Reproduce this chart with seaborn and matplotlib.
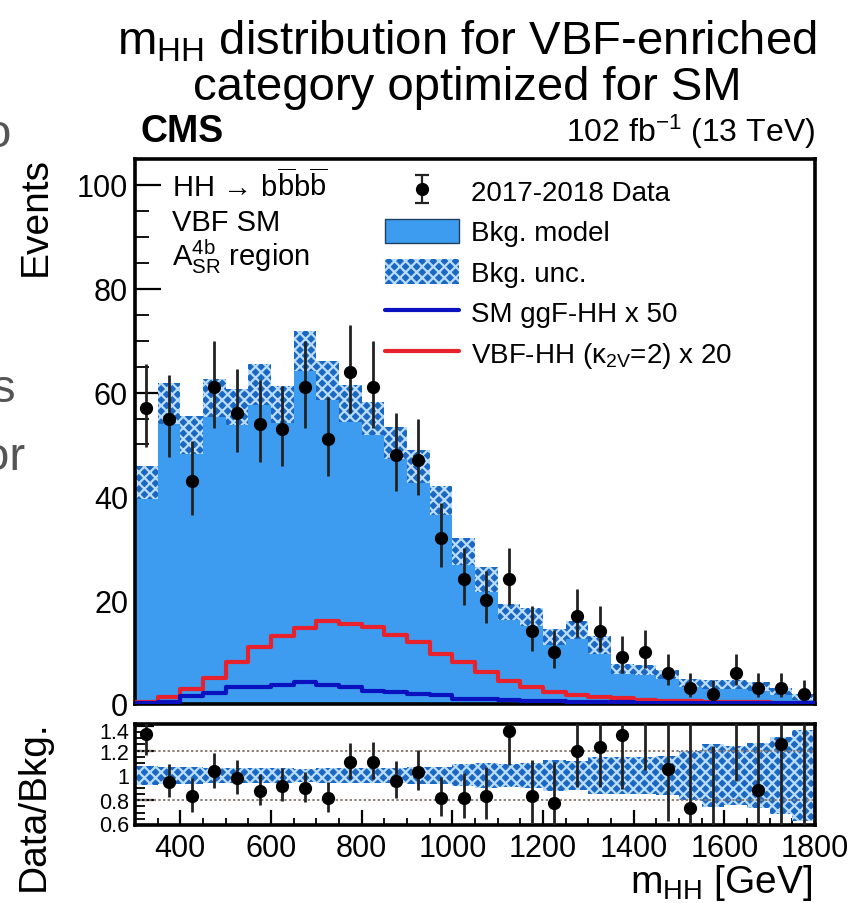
import numpy as np
import pandas as pd
import matplotlib
matplotlib.use("Agg")
import matplotlib.pyplot as plt
import matplotlib.transforms as mtransforms
import seaborn as sns
from matplotlib.ticker import MultipleLocator, FixedLocator, FuncFormatter
from matplotlib.patches import Patch
from matplotlib.lines import Line2D

# ---------------- data ----------------
bin_edges = [300, 350, 400, 450, 500, 550, 600, 650, 700, 750, 800, 850, 900, 950,
             1000, 1050, 1100, 1150, 1200, 1250, 1300, 1350, 1400, 1450, 1500,
             1550, 1600, 1650, 1700, 1750, 1800]
data_counts = [57, 55, 43, 61, 56, 54, 53, 61, 51, 64, 61, 48, 47, 32, 24,
               20, 24, 14, 10, 17, 14, 9, 10, 6, 3, 2, 6, 3, 3, 2]
data_err_lo = [7.50, 7.37, 6.50, 7.76, 7.43, 7.30, 7.23, 7.76, 7.09, 7.95, 7.76, 6.88, 6.81, 5.62, 4.86,
               4.42, 4.86, 3.70, 3.11, 4.08, 3.70, 2.94, 3.11, 2.38, 1.63, 1.29, 2.38, 1.63, 1.63, 1.29]
data_err_hi = [8.58, 8.45, 7.60, 8.85, 8.52, 8.38, 8.31, 8.85, 8.17, 9.04, 8.85, 7.97, 7.90, 6.71, 5.98,
               5.55, 5.98, 4.83, 4.26, 5.21, 4.83, 4.11, 4.26, 3.58, 2.92, 2.64, 3.58, 2.92, 2.92, 2.64]
bkg_model = [42.6, 57.9, 51.8, 59.0, 57.2, 61.6, 57.7, 68.0, 62.3, 57.9, 55.0, 50.3, 45.7, 39.2, 29.3,
             24.0, 17.7, 16.8, 12.9, 14.2, 11.4, 6.8, 6.6, 5.7, 4.05, 3.75, 3.8, 3.4, 2.4, 1.35]
bkg_unc = [3.2, 3.9, 3.6, 3.7, 3.4, 3.9, 3.6, 3.8, 3.8, 3.5, 3.2, 3.1, 3.2, 2.8, 2.6,
           2.4, 1.6, 1.7, 1.6, 1.7, 1.7, 1.0, 1.0, 0.9, 0.8, 0.95, 0.9, 0.9, 0.75, 0.5]
ggf_sm_x50 = [0.2, 0.4, 1.5, 2.2, 3.3, 3.3, 3.6, 4.2, 3.7, 3.2, 2.5, 2.3, 1.9, 1.8, 1.0,
              1.0, 0.8, 0.6, 0.5, 0.4, 0.3, 0.3, 0.2, 0.2, 0.2, 0.1, 0.1, 0.1, 0.1, 0.1]
vbf_k2v2_x20 = [0.4, 1.3, 2.9, 5.1, 8.0, 10.9, 13.1, 14.6, 15.9, 15.4, 14.8, 13.3, 11.9, 9.7, 8.0,
                6.1, 4.5, 3.2, 2.3, 1.8, 1.4, 1.1, 0.8, 0.6, 0.5, 0.4, 0.3, 0.3, 0.2, 0.2]

legend_labels = ["2017-2018 Data", "Bkg. model", "Bkg. unc.", "SM ggF-HH x 50",
                 r"VBF-HH (κ$_{\mathrm{2V}}$=2) x 20"]
ratio_ticks = [0.6, 0.8, 1.0, 1.2, 1.4]

# ---------------- style ----------------
sns.set_style("ticks")
plt.rcParams['font.family'] = ['Liberation Sans', 'DejaVu Sans']
plt.rcParams['mathtext.fontset'] = 'custom'
plt.rcParams['mathtext.rm'] = 'Liberation Sans'
plt.rcParams['mathtext.it'] = 'Liberation Sans:italic'
plt.rcParams['mathtext.bf'] = 'Liberation Sans:bold'
plt.rcParams['hatch.linewidth'] = 1.6
for key in ('text.color', 'axes.labelcolor', 'xtick.color', 'ytick.color', 'axes.edgecolor'):
    plt.rcParams[key] = 'black'

BKG_COLOR = '#3d9bf0'
BAND_FACE = '#1a68c2'
BAND_HATCH = '#b9dcff'
RED = '#e8222c'
BLUE = '#0a12c0'

edges = np.array(bin_edges, dtype=float)
centers = 0.5 * (edges[:-1] + edges[1:])
data = np.array(data_counts, dtype=float)
elo = np.array(data_err_lo)
ehi = np.array(data_err_hi)
bkg = np.array(bkg_model)
unc = np.array(bkg_unc)

hist_df = pd.DataFrame({"mhh": centers, "bkg": bkg_model, "ggf": ggf_sm_x50, "vbf": vbf_k2v2_x20})

W, H = 850, 904
fig = plt.figure(figsize=(W / 100, H / 100), dpi=100)
ax = fig.add_axes([135 / W, 1 - 705 / H, 680 / W, 545 / H])
rax = fig.add_axes([135 / W, 1 - 826 / H, 680 / W, 101 / H])

# ---------------- main panel ----------------
sns.histplot(data=hist_df, x="mhh", weights="bkg", bins=bin_edges, element='step', fill=True,
             color=BKG_COLOR, alpha=1, linewidth=0, ax=ax, zorder=1)
lo = np.append(bkg - unc, (bkg - unc)[-1])
hi = np.append(bkg + unc, (bkg + unc)[-1])
ax.fill_between(edges, lo, hi, step='post', facecolor=BAND_FACE, edgecolor=BAND_HATCH,
                hatch='xxx', linewidth=0, zorder=2)
sns.histplot(data=hist_df, x="mhh", weights="vbf", bins=bin_edges, element='step', fill=False,
             color=RED, linewidth=3, ax=ax, zorder=3)
sns.histplot(data=hist_df, x="mhh", weights="ggf", bins=bin_edges, element='step', fill=False,
             color=BLUE, linewidth=3, ax=ax, zorder=3)
ax.errorbar(centers, data, yerr=[elo, ehi], fmt='o', color='black', ecolor='#222222',
            elinewidth=2, markersize=8.5, capsize=0, zorder=5)
ax.set_xlim(300, 1800)
ax.set_ylim(0, 105)
ax.set_xlabel('')
ax.set_ylabel('')
ax.xaxis.set_major_locator(MultipleLocator(200))
ax.xaxis.set_minor_locator(MultipleLocator(50))
ax.yaxis.set_major_locator(MultipleLocator(20))
ax.yaxis.set_minor_locator(MultipleLocator(5))
ax.tick_params(axis='both', which='both', direction='in', color='black')
ax.tick_params(axis='y', which='major', length=19, width=1.6, labelsize=22, pad=5)
ax.tick_params(axis='y', which='minor', length=10, width=1.3)
ax.tick_params(axis='x', which='major', length=11, width=1.6, labelbottom=False)
ax.tick_params(axis='x', which='minor', length=5, width=1.3)
for s in ax.spines.values():
    s.set_visible(True)
    s.set_linewidth(2.6)
    s.set_color('black')

# legend
dummy = ax.errorbar([np.nan], [np.nan], yerr=[[1], [1]], fmt='o', color='black',
                    ecolor='#222222', elinewidth=1.6, markersize=8.5, capsize=5, capthick=1.6)
handles = [dummy,
           Patch(facecolor=BKG_COLOR, edgecolor='#204060', linewidth=1.0),
           Patch(facecolor=BAND_FACE, edgecolor=BAND_HATCH, hatch='xxx', linewidth=0),
           Line2D([], [], color=BLUE, linewidth=3),
           Line2D([], [], color=RED, linewidth=3)]
ax.legend(handles, legend_labels, loc='upper left', bbox_to_anchor=(0.3676, 0.965),
          frameon=False, fontsize=20, handlelength=2.65, handleheight=1.0,
          handletextpad=0.45, labelspacing=0.45, borderpad=0, borderaxespad=0)

# in-plot labels
fig.text(172 / W, 1 - 197 / H, r"HH $\!\rightarrow\!$ b$\overline{\mathrm{b}}$b$\overline{\mathrm{b}}$",
         fontsize=21, va='baseline', ha='left')
fig.text(172 / W, 1 - 231 / H, "VBF SM", fontsize=21, va='baseline', ha='left')
fig.text(172 / W, 1 - 266 / H, r"A$^{\mathrm{4b}}_{\mathrm{SR}}$ region", fontsize=21,
         va='baseline', ha='left')

# ---------------- ratio panel ----------------
ratio = data / bkg
rlo = elo / bkg
rhi = ehi / bkg
rel = unc / bkg
rax.fill_between(edges, np.append(1 - rel, (1 - rel)[-1]), np.append(1 + rel, (1 + rel)[-1]),
                 step='post', facecolor=BAND_FACE, edgecolor=BAND_HATCH, hatch='xxx',
                 linewidth=0, zorder=1)
for yv in (0.8, 1.2):
    rax.axhline(yv, color='#8a7f78', linestyle=(0, (1.2, 1.2)), linewidth=1.4, zorder=2)
rax.errorbar(centers, ratio, yerr=[rlo, rhi], fmt='o', color='black', ecolor='#222222',
             elinewidth=2, markersize=8.5, capsize=0, zorder=5)
rax.set_xlim(300, 1800)
rax.set_ylim(0.6, 1.415)
rax.xaxis.set_major_locator(MultipleLocator(200))
rax.xaxis.set_minor_locator(MultipleLocator(50))
rax.yaxis.set_major_locator(FixedLocator(ratio_ticks))
rax.yaxis.set_minor_locator(MultipleLocator(0.05))
rax.yaxis.set_major_formatter(FuncFormatter(lambda v, p: f"{v:g}"))
rax.tick_params(axis='both', which='both', direction='in', color='black')
rax.tick_params(axis='y', which='major', length=14, width=1.6, labelsize=15.5, pad=4)
rax.tick_params(axis='y', which='minor', length=7, width=1.3)
rax.tick_params(axis='x', which='major', length=11, width=1.6, labelsize=22, pad=6)
rax.tick_params(axis='x', which='minor', length=5, width=1.3)
for s in rax.spines.values():
    s.set_visible(True)
    s.set_linewidth(2.6)
    s.set_color('black')

# nudge the edge labels of the ratio axis inward, as in the reference
fig.canvas.draw()
shift_down = mtransforms.ScaledTranslation(0, -4 / 100, fig.dpi_scale_trans)
shift_up = mtransforms.ScaledTranslation(0, 2 / 100, fig.dpi_scale_trans)
for lab in rax.get_yticklabels():
    if lab.get_text() == '1.4':
        lab.set_transform(lab.get_transform() + shift_down)
    elif lab.get_text() == '0.6':
        lab.set_transform(lab.get_transform() + shift_up)

# ---------------- figure texts ----------------
fig.text(467 / W, 1 - 55 / H, r"m$_{\mathrm{HH}}$ distribution for VBF-enriched",
         fontsize=34, ha='center', va='baseline')
fig.text(467 / W, 1 - 100 / H, "category optimized for SM",
         fontsize=34, ha='center', va='baseline')
fig.text(140 / W, 1 - 142 / H, "CMS", fontsize=27, fontweight='bold', ha='left', va='baseline')
fig.text(815 / W, 1 - 142 / H, r"102 fb$^{\mathrm{-1}}$ (13 TeV)", fontsize=23,
         ha='right', va='baseline')
fig.text(36 / W, 1 - 216 / H, "Events", fontsize=28, rotation=90, ha='center', va='center')
fig.text(34 / W, 1 - 806 / H, "Data/Bkg.", fontsize=28, rotation=90, ha='center', va='center')
fig.text(812 / W, 1 - 893 / H, r"m$_{\mathrm{HH}}$ [GeV]", fontsize=28, ha='right', va='baseline')

# clipped gray fragments of neighbouring text at the left edge (as in the reference)
fig.text(-15 / W, 1 - 147 / H, "o", fontsize=34, color='#555555', ha='left', va='baseline')
fig.text(-8 / W, 1 - 402 / H, "s", fontsize=34, color='#555555', ha='left', va='baseline')
fig.text(-17 / W, 1 - 470 / H, "or", fontsize=34, color='#555555', ha='left', va='baseline')

fig.savefig("out.png", dpi=100)
